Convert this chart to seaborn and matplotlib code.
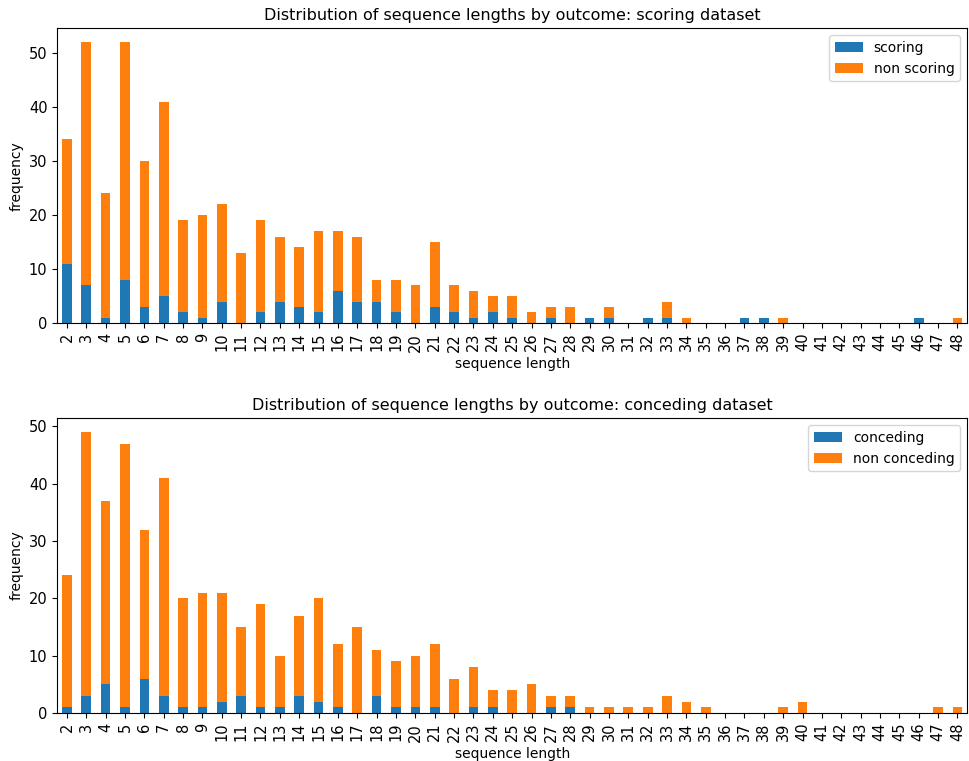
import numpy as np
import pandas as pd
import matplotlib
matplotlib.use("Agg")
import matplotlib.pyplot as plt
import seaborn as sns

lengths = list(range(2, 49))

# scoring dataset
scoring = [11, 7, 1, 8, 3, 5, 2, 1, 4, 0, 2, 4, 3, 2, 6, 4, 4, 2, 0, 3, 2, 1, 2, 1,
           0, 1, 0, 1, 1, 0, 1, 1, 0, 0, 0, 1, 1, 0, 0, 0, 0, 0, 0, 0, 1, 0, 0]
non_scoring = [23, 45, 23, 44, 27, 36, 17, 19, 18, 13, 17, 12, 11, 15, 11, 12, 4, 6, 7, 12, 5, 5, 3, 4,
               2, 2, 3, 0, 2, 0, 0, 3, 1, 0, 0, 0, 0, 1, 0, 0, 0, 0, 0, 0, 0, 0, 1]

# conceding dataset
conceding = [1, 3, 5, 1, 6, 3, 1, 1, 2, 3, 1, 1, 3, 2, 1, 0, 3, 1, 1, 1, 0, 1, 1, 0,
             0, 1, 1, 0, 0, 0, 0, 0, 0, 0, 0, 0, 0, 0, 0, 0, 0, 0, 0, 0, 0, 0, 0]
non_conceding = [23, 46, 32, 46, 26, 38, 19, 20, 19, 12, 18, 9, 14, 18, 11, 15, 8, 8, 9, 11, 6, 7, 3, 4,
                 5, 2, 2, 1, 1, 1, 1, 3, 2, 1, 0, 0, 0, 1, 2, 0, 0, 0, 0, 0, 0, 1, 1]

BLUE = "#1f77b4"
ORANGE = "#ff7f0e"


def stacked_bars(ax, pos, neg, pos_label, neg_label, title):
    df = pd.DataFrame({"length": [str(l) for l in lengths],
                       "pos": pos,
                       "total": np.array(pos) + np.array(neg)})
    order = df["length"].tolist()
    # orange drawn as the full stack, blue on top of its lower part
    sns.barplot(data=df, x="length", y="total", order=order, color=ORANGE,
                width=0.5, saturation=1, errorbar=None, ax=ax, label=neg_label)
    sns.barplot(data=df, x="length", y="pos", order=order, color=BLUE,
                width=0.5, saturation=1, errorbar=None, ax=ax, label=pos_label)
    handles, labels = ax.get_legend_handles_labels()
    ax.legend(handles[::-1], labels[::-1], loc="upper right", fontsize=10)
    ax.set_title(title, fontsize=11.5)
    ax.set_xlabel("sequence length", fontsize=10)
    ax.set_ylabel("frequency", fontsize=10)
    ax.tick_params(axis="x", labelrotation=90, labelsize=10.5)
    ax.tick_params(axis="y", labelsize=10.5)
    ax.set_xlim(-0.5, len(lengths) - 0.5)
    ax.set_ylim(0, max(df["total"]) * 1.05)


fig, axes = plt.subplots(2, 1, figsize=(9.7, 7.61), dpi=100)
stacked_bars(axes[0], scoring, non_scoring, "scoring", "non scoring",
             "Distribution of sequence lengths by outcome: scoring dataset")
stacked_bars(axes[1], conceding, non_conceding, "conceding", "non conceding",
             "Distribution of sequence lengths by outcome: conceding dataset")

fig.subplots_adjust(left=0.059, right=0.997, top=0.963, bottom=0.063, hspace=0.322)
fig.savefig("out.png", dpi=100)
plt.close(fig)
